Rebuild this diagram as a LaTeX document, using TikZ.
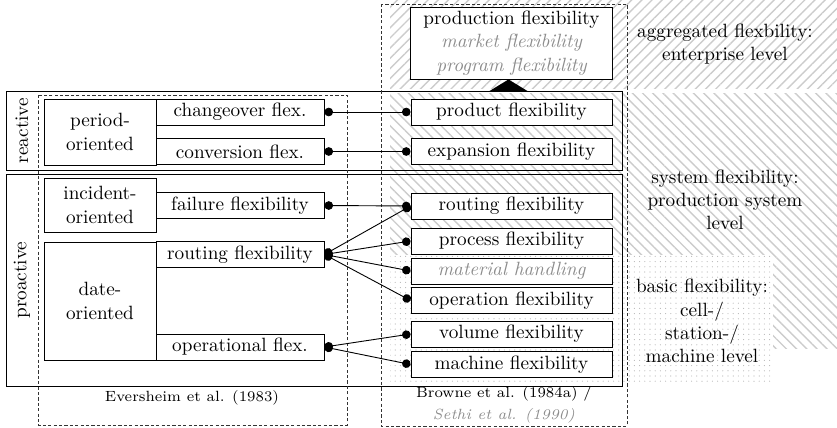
\documentclass[tikz,border=0pt]{standalone}
\usetikzlibrary{patterns.meta,arrows.meta}
\begin{document}
\begin{tikzpicture}[x=0.5pt,y=-0.5pt,
  mainfont/.style={font=\fontsize{9.6}{11.6}\selectfont},
  smallfont/.style={font=\fontsize{7.4}{10.8}\selectfont},
  box/.style={draw, line width=0.45pt, fill=white, inner sep=0pt, mainfont, align=center},
  leftcat/.style={box, minimum width=56pt},
  leftflex/.style={box, minimum width=84pt, minimum height=13pt},
  rightflex/.style={box, minimum width=100.5pt, minimum height=13pt},
  faded/.style={text=black!45, font=\fontsize{9.6}{11.6}\selectfont\itshape},
  frame/.style={draw, line width=0.5pt},
  source/.style={draw=black!80, line width=0.45pt, dash pattern=on 1.6pt off 1.1pt},
  conn/.style={{Circle[length=4.3pt]}-{Circle[length=4.3pt]}, line width=0.45pt},
  level/.style={mainfont, align=center, inner sep=0pt}
]
\useasboundingbox (0,0) rectangle (837,428);

% level backgrounds
\fill[pattern={Lines[angle=45,distance=3.6pt,line width=0.7pt]}, pattern color=black!20]
  (390,0) rectangle (837,88);
\fill[pattern={Lines[angle=-45,distance=3.6pt,line width=0.7pt]}, pattern color=black!20]
  (390,93) rectangle (837,348);
\fill[white] (390,255) rectangle (773,382);
\fill[pattern={Dots[distance=2.6pt,radius=0.28pt]}, pattern color=black!28]
  (390,255) rectangle (773,382);

% level labels
\node[level] (aggr) at (725,44) {aggregated flexbility:\\enterprise level};
\node[level] (sys) at (725,200) {system flexibility:\\production system\\level};
\node[level] (basic) at (702,321) {basic flexibility:\\cell-/\\station-/\\machine level};

% reactive / proactive frames
\draw[frame] (6,91) rectangle (622,170);
\draw[frame] (6,174) rectangle (622,386);
\node[mainfont, rotate=90] (reactive) at (22,130.5) {reactive};
\node[mainfont, rotate=90] (proactive) at (22,280) {proactive};

% source frames
\draw[source] (38,95) rectangle (347,425);
\draw[source] (381,4) rectangle (627,426);
\node[smallfont] (evers) at (192,398) {Eversheim et al. (1983)};
\node[smallfont, align=center] (browne) at (504,405)
  {Browne et al. (1984a) /\\{\color{black!45}\itshape Sethi et al. (1990)}};

% Eversheim classification
\node[leftcat, minimum height=33pt] (period) at (100,132) {period-\\oriented};
\node[leftflex] (changeover) at (240,112) {changeover flex.};
\node[leftflex] (conversion) at (240,151.5) {conversion flex.};
\node[leftcat, minimum height=27pt] (incident) at (100,205) {incident-\\oriented};
\node[leftflex] (failure) at (240,205.5) {failure flexibility};
\node[leftcat, minimum height=59pt] (date) at (100,301) {date-\\oriented};
\node[leftflex] (routingL) at (240,254.5) {routing flexibility};
\node[leftflex] (operational) at (240,347) {operational flex.};

% Browne classification
\node[box, minimum width=101pt, minimum height=36pt] (production) at (511.5,43)
  {production flexibility\\{\color{black!45}\itshape market flexibility}\\{\color{black!45}\itshape program flexibility}};
\fill (production.south) ++(-3,0) -- ++(20.5,12.5) -- ++(-41,0) -- cycle;
\node[rightflex] (product) at (511.5,112) {product flexibility};
\node[rightflex] (expansion) at (511.5,151.5) {expansion flexibility};
\node[rightflex] (routingR) at (511.5,206) {routing flexibility};
\node[rightflex] (process) at (511.5,241) {process flexibility};
\node[rightflex, faded] (material) at (511.5,271) {material handling};
\node[rightflex] (operation) at (511.5,300.5) {operation flexibility};
\node[rightflex] (volume) at (511.5,334) {volume flexibility};
\node[rightflex] (machine) at (511.5,364.5) {machine flexibility};

% correspondences
\draw[conn] (changeover.east) -- (product.west);
\draw[conn] (conversion.east) -- (expansion.west);
\draw[conn] (failure.east) -- (routingR.west);
\draw[conn] (routingL.east) -- (routingR.west);
\draw[conn] (routingL.east) -- (process.west);
\draw[conn] (routingL.east) -- (material.west);
\draw[conn] (routingL.east) -- (operation.west);
\draw[conn] (operational.east) -- (volume.west);
\draw[conn] (operational.east) -- (machine.west);
\end{tikzpicture}
\end{document}
